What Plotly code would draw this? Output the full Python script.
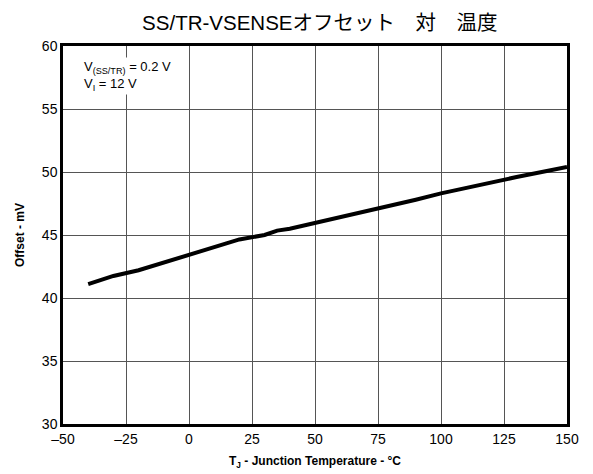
import plotly.graph_objects as go

temperature_c = [-40, -30, -20, -10, 0, 10, 15, 20, 30, 35, 40, 50, 60, 70, 80, 90, 100, 110, 115, 120, 130, 140, 150]
offset_mv = [41.1, 41.75, 42.2, 42.8, 43.4, 44.0, 44.3, 44.65, 45.0, 45.35, 45.5, 45.95, 46.45, 46.9,
             47.35, 47.8, 48.3, 48.75, 48.9, 49.2, 49.6, 50.0, 50.4]

x_ticks = [-50, -25, 0, 25, 50, 75, 100, 125, 150]
y_ticks = [30, 35, 40, 45, 50, 55, 60]

title_text = "SS/TR-VSENSEオフセット　対　温度"
x_title = "T<sub>J</sub> - Junction Temperature - °C"
y_title = "Offset - mV"
note_text = "V<sub>(SS/TR)</sub> = 0.2 V<br>V<sub>I</sub> = 12 V"

FONT = "Liberation Sans, Arial, Noto Sans CJK JP, sans-serif"

fig = go.Figure()
fig.add_trace(go.Scatter(x=temperature_c, y=offset_mv, mode="lines",
                         line=dict(color="black", width=4), showlegend=False))

axis_common = dict(showline=True, linecolor="black", linewidth=2.5, mirror=True,
                   showgrid=True, gridcolor="#555555", gridwidth=1, zeroline=False,
                   ticks="", automargin=False,
                   tickfont=dict(family=FONT, size=14, color="black"))

fig.update_xaxes(range=[-50, 150], tickvals=x_ticks,
                 ticktext=[("–" + str(-v)) if v < 0 else str(v) for v in x_ticks],
                 **axis_common)
fig.update_yaxes(range=[30, 60], tickvals=y_ticks,
                 title=dict(text="<b>" + y_title + "</b>", font=dict(family=FONT, size=12, color="black")),
                 **axis_common)

# x-axis title as an annotation below the axis
fig.add_annotation(text="<b>" + x_title + "</b>", xref="paper", yref="paper", x=0.5, y=0,
                   xanchor="center", yanchor="middle", yshift=-38, showarrow=False,
                   font=dict(family=FONT, size=12, color="black"))

fig.add_annotation(text=note_text, xref="paper", yref="paper", x=0.037, y=0.972,
                   xanchor="left", yanchor="top", showarrow=False, align="left",
                   bgcolor="white", font=dict(family=FONT, size=13, color="black"), borderpad=1)

# the page body adds an 8px offset, so the figure is sized 8px smaller to fit the 593x474 window
fig.update_layout(
    width=585, height=466,
    margin=dict(l=55, r=26, t=38, b=50),
    paper_bgcolor="white", plot_bgcolor="white",
    title=dict(text=title_text, x=0.533, xanchor="center", y=0.968, yanchor="middle",
               font=dict(family=FONT, size=20.5, color="black")),
)

fig.write_html("out.html")
